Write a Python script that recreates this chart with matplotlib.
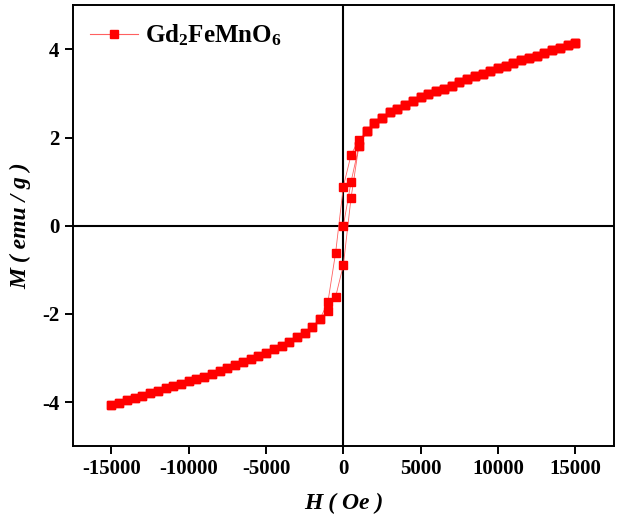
import matplotlib
matplotlib.use("Agg")
import matplotlib.pyplot as plt

plt.rcParams["font.family"] = ["Liberation Serif", "DejaVu Serif"]
plt.rcParams["font.weight"] = "bold"
plt.rcParams["axes.unicode_minus"] = False
plt.rcParams["mathtext.fontset"] = "custom"
plt.rcParams["mathtext.bf"] = "Liberation Serif:bold"
plt.rcParams["mathtext.rm"] = "Liberation Serif:bold"
plt.rcParams["mathtext.default"] = "bf"

# high-field part of the loop (same for both branches), Oe / emu/g
H_POS = [1500, 2000, 2500, 3000, 3500, 4000, 4500, 5000, 5500, 6000, 6500, 7000,
         7500, 8000, 8500, 9000, 9500, 10000, 10500, 11000, 11500, 12000, 12500,
         13000, 13500, 14000, 14500, 15000]
M_POS = [2.14, 2.32, 2.45, 2.57, 2.64, 2.73, 2.82, 2.91, 2.98, 3.05, 3.11, 3.18,
         3.25, 3.32, 3.39, 3.45, 3.51, 3.57, 3.63, 3.69, 3.75, 3.81, 3.86,
         3.92, 3.98, 4.04, 4.10, 4.15]
H_NEG = [-1500, -2000, -2500, -3000, -3500, -4000, -4500, -5000, -5500, -6000,
         -6500, -7000, -7500, -8000, -8500, -9000, -9500, -10000, -10500, -11000,
         -11500, -12000, -12500, -13000, -13500, -14000, -14500, -15000]
M_NEG = [-2.11, -2.29, -2.43, -2.52, -2.63, -2.72, -2.80, -2.88, -2.95, -3.02,
         -3.09, -3.16, -3.23, -3.30, -3.36, -3.42, -3.47, -3.52, -3.58, -3.63,
         -3.69, -3.74, -3.79, -3.85, -3.90, -3.95, -4.01, -4.07]

# low-field points
H_VIRGIN = [0, 500, 1000]
M_VIRGIN = [0.0, 1.0, 1.80]
H_DOWN_LOW = [1000, 500, 0, -500, -1000]
M_DOWN_LOW = [1.95, 1.61, 0.89, -0.61, -1.73]
H_UP_LOW = [-1000, -500, 0, 500, 1000]
M_UP_LOW = [-1.93, -1.61, -0.89, 0.64, 1.80]

H = (H_VIRGIN + H_POS + H_POS[::-1] + H_DOWN_LOW + H_NEG + H_NEG[::-1]
     + H_UP_LOW + H_POS)
M = (M_VIRGIN + M_POS + M_POS[::-1] + M_DOWN_LOW + M_NEG + M_NEG[::-1]
     + M_UP_LOW + M_POS)

fig = plt.figure(figsize=(6.17, 5.25), dpi=100)
ax = fig.add_axes([0.118, 0.150, 0.877, 0.840])

ax.axhline(0, color="black", lw=1.5, zorder=1)
ax.axvline(0, color="black", lw=1.5, zorder=1)
# connecting line (thin, pale) and markers drawn separately
ax.plot(H, M, color="#ff6060", lw=0.6, zorder=2)
ax.plot(H, M, ls="none", marker="s", markersize=6.2,
        markerfacecolor="#ff0000", markeredgecolor="#ff0000", zorder=3)
# legend proxy
ax.plot([], [], color="#ff6060", lw=0.8, marker="s", markersize=6,
        markerfacecolor="#ff0000", markeredgecolor="#ff0000",
        label="Gd$_{2}$FeMnO$_{6}$")

ax.set_xlim(-17500, 17500)
ax.set_ylim(-5, 5)
ax.set_xticks([-15000, -10000, -5000, 0, 5000, 10000, 15000])
ax.set_yticks([-4, -2, 0, 2, 4])
ax.tick_params(direction="out", length=6, width=1.4, labelsize=15,
               top=False, right=False)
for lab in ax.get_xticklabels() + ax.get_yticklabels():
    lab.set_fontweight("bold")
for s in ax.spines.values():
    s.set_linewidth(1.4)

ax.set_xlabel("H ( Oe )", fontsize=17, fontweight="bold", style="italic", labelpad=10)
ax.set_ylabel("M ( emu / g )", fontsize=17, fontweight="bold", style="italic", labelpad=8)

leg = ax.legend(loc="upper left", frameon=False, fontsize=18, handlelength=1.9,
                borderaxespad=0.3, borderpad=0.4, handletextpad=0.3)

fig.savefig("out.png", dpi=100)
